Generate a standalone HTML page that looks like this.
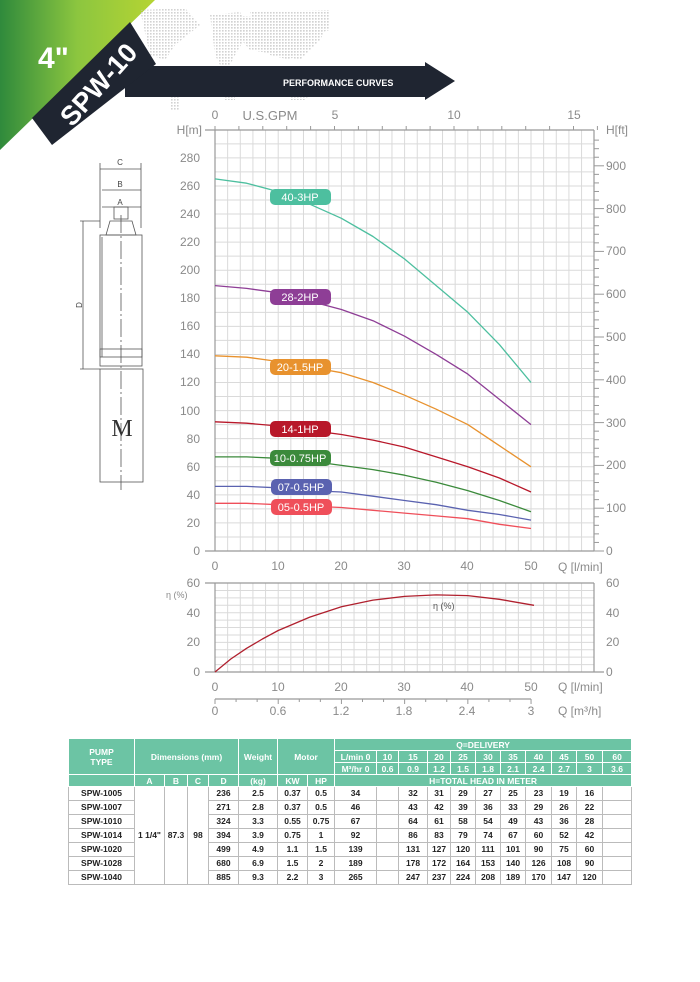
<!DOCTYPE html>
<html><head><meta charset="utf-8"><style>
body{margin:0;background:#fff;width:700px;height:982px;overflow:hidden;font-family:"Liberation Sans",sans-serif}
svg{position:absolute;left:0;top:0}
.t{font-family:"Liberation Sans",sans-serif;fill:#8a8a8a;font-size:12px}
table{position:absolute;left:68px;top:738px;width:564px;border-collapse:collapse;font-family:"Liberation Sans",sans-serif;font-size:8.5px;font-weight:bold;table-layout:fixed}
td{border:1px solid #bbb;text-align:center;padding:0;height:13px;line-height:11px;color:#222}
.h td,td.h{background:#6cc4a4;color:#fff;border-color:#fff;height:11px;line-height:10px}
</style></head><body>
<svg width="700" height="982" viewBox="0 0 700 982">
<defs><linearGradient id="g" x1="0" y1="0" x2="1" y2="0"><stop offset="0" stop-color="#2f8a3c"/><stop offset="0.5" stop-color="#8cc63f"/><stop offset="1" stop-color="#b5d433"/></linearGradient>
<pattern id="dots" width="3" height="3" patternUnits="userSpaceOnUse"><rect width="1.6" height="1.6" fill="#c8c8c8"/></pattern></defs>
<polygon points="0,0 155,0 0,150" fill="url(#g)"/>
<g fill="url(#dots)" opacity="0.8">
<path d="M140,10 L185,8 L200,25 L175,45 L165,60 L150,55 Z"/>
<path d="M210,15 L240,12 L250,30 L235,55 L225,75 L215,55 Z"/>
<path d="M250,12 L330,10 L330,30 L310,35 L290,60 L270,55 L255,40 Z"/>
<path d="M220,15 L330,20 L320,40 L300,60 L280,55 L250,50 Z"/>
<path d="M170,95 L180,95 L180,110 L170,110 Z"/>
<path d="M225,95 L235,95 L235,100 L225,100Z"/>
<path d="M290,95 L310,95 L305,100 L290,100Z"/>
</g>
<polygon points="125,66 425,66 425,62 455,81 425,100 425,97 125,97" fill="#1f2531"/>
<text x="283" y="86" font-size="9" font-weight="bold" fill="#fff" font-family="Liberation Sans">PERFORMANCE  CURVES</text>
<polygon points="32,118 130,22 156,64 52,145" fill="#1f2531"/>
<g transform="translate(98,84) rotate(-48)">
<text x="0" y="10" text-anchor="middle" font-size="27" font-weight="bold" fill="#fff" font-family="Liberation Sans">SPW-10</text>
</g>
<text x="38" y="68" font-size="30" font-weight="bold" fill="#fff" font-family="Liberation Sans">4"</text>

<g id="grid" stroke="#dadada" stroke-width="1"></g>
<g stroke="#999" stroke-width="1.2" fill="none">
<line x1="215" y1="130" x2="215" y2="551"/><line x1="205" y1="551" x2="594" y2="551"/>
<line x1="205" y1="130" x2="594" y2="130"/><line x1="594" y1="130" x2="594" y2="551"/>
<line x1="215" y1="583" x2="215" y2="672"/><line x1="205" y1="672" x2="604" y2="672"/>
<line x1="205" y1="583" x2="594" y2="583"/><line x1="594" y1="583" x2="594" y2="672"/>
<line x1="215" y1="699" x2="531" y2="699"/>
</g>
<g id="ticks" stroke="#999" stroke-width="1"></g>
<g class="t">
<text x="215" y="119" text-anchor="middle">0</text><text x="270" y="120" text-anchor="middle" font-size="13">U.S.GPM</text>
<text x="335" y="119" text-anchor="middle">5</text><text x="454" y="119" text-anchor="middle">10</text><text x="574" y="119" text-anchor="middle">15</text>
<text x="202" y="134" text-anchor="end">H[m]</text><text x="606" y="134">H[ft]</text>
<text x="200" y="162" text-anchor="end">280</text><text x="200" y="190" text-anchor="end">260</text><text x="200" y="218" text-anchor="end">240</text>
<text x="200" y="246" text-anchor="end">220</text><text x="200" y="274" text-anchor="end">200</text><text x="200" y="302" text-anchor="end">180</text>
<text x="200" y="330" text-anchor="end">160</text><text x="200" y="358" text-anchor="end">140</text><text x="200" y="386" text-anchor="end">120</text>
<text x="200" y="415" text-anchor="end">100</text><text x="200" y="443" text-anchor="end">80</text><text x="200" y="471" text-anchor="end">60</text>
<text x="200" y="499" text-anchor="end">40</text><text x="200" y="527" text-anchor="end">20</text><text x="200" y="555" text-anchor="end">0</text>
<text x="606" y="170">900</text><text x="606" y="213">800</text><text x="606" y="255">700</text><text x="606" y="298">600</text>
<text x="606" y="341">500</text><text x="606" y="384">400</text><text x="606" y="427">300</text><text x="606" y="469">200</text>
<text x="606" y="512">100</text><text x="606" y="555">0</text>
<text x="215" y="570" text-anchor="middle">0</text><text x="278" y="570" text-anchor="middle">10</text><text x="341" y="570" text-anchor="middle">20</text>
<text x="404" y="570" text-anchor="middle">30</text><text x="467" y="570" text-anchor="middle">40</text><text x="531" y="570" text-anchor="middle">50</text>
<text x="558" y="571">Q [l/min]</text>
<text x="200" y="587" text-anchor="end">60</text><text x="200" y="617" text-anchor="end">40</text><text x="200" y="646" text-anchor="end">20</text><text x="200" y="676" text-anchor="end">0</text>
<text x="166" y="598" font-size="9">η (%)</text>
<text x="606" y="587">60</text><text x="606" y="617">40</text><text x="606" y="646">20</text><text x="606" y="676">0</text>
<text x="215" y="691" text-anchor="middle">0</text><text x="278" y="691" text-anchor="middle">10</text><text x="341" y="691" text-anchor="middle">20</text>
<text x="404" y="691" text-anchor="middle">30</text><text x="467" y="691" text-anchor="middle">40</text><text x="531" y="691" text-anchor="middle">50</text>
<text x="558" y="691">Q [l/min]</text>
<text x="215" y="715" text-anchor="middle">0</text><text x="278" y="715" text-anchor="middle">0.6</text><text x="341" y="715" text-anchor="middle">1.2</text>
<text x="404" y="715" text-anchor="middle">1.8</text><text x="467" y="715" text-anchor="middle">2.4</text><text x="531" y="715" text-anchor="middle">3</text>
<text x="558" y="715">Q [m³/h]</text>
<text x="433" y="609" font-size="9" fill="#555">η (%)</text>
</g>
<g fill="none" stroke-width="1.3" stroke-linejoin="round">
<polyline stroke="#4dbf9f" points="215,178.9 246.6,183.2 278.2,191.6 309.8,204.2 341.4,218.3 373,236.5 404.6,259 436.2,285.6 467.8,312.3 499.4,344.6 531,382.5"/>
<polyline stroke="#8e3e96" points="215,285.6 246.6,288.4 278.2,292.7 309.8,301.1 341.4,309.5 373,320.7 404.6,336.2 436.2,354.4 467.8,374.1 499.4,399.4 531,424.6"/>
<polyline stroke="#e8922e" points="215,355.8 246.6,357.2 278.2,361.5 309.8,367.1 341.4,372.7 373,382.5 404.6,395.2 436.2,409.2 467.8,424.6 499.4,445.7 531,466.8"/>
<polyline stroke="#b8182a" points="215,421.8 246.6,423.2 278.2,426 309.8,430.3 341.4,434.5 373,440.1 404.6,447.1 436.2,456.9 467.8,466.8 499.4,478 531,492"/>
<polyline stroke="#3b8a3b" points="215,456.9 246.6,456.9 278.2,458.3 309.8,461.1 341.4,465.4 373,469.6 404.6,475.2 436.2,482.2 467.8,490.6 499.4,500.5 531,511.7"/>
<polyline stroke="#5a62b0" points="215,486.4 246.6,486.4 278.2,487.8 309.8,490.6 341.4,492 373,496.2 404.6,500.5 436.2,504.7 467.8,510.3 499.4,514.5 531,520.1"/>
<polyline stroke="#ef4f5a" points="215,503.3 246.6,503.3 278.2,504.7 309.8,506.1 341.4,507.5 373,510.3 404.6,513.1 436.2,515.9 467.8,518.7 499.4,524.3 531,528.5"/>
<polyline stroke="#b0202e" points="215,672 230.8,659 246.6,648.3 262.4,639 278.2,630.5 309.8,617.1 341.4,606.7 373,600.1 404.6,596.4 436.2,594.9 467.8,595.6 499.4,599.3 534,605.3"/>
</g>
<g font-size="11" fill="#fff" text-anchor="middle" font-family="Liberation Sans">
<rect x="270" y="189" width="61" height="16" rx="5" fill="#4dbf9f"/><text x="300" y="201">40-3HP</text>
<rect x="270" y="289" width="61" height="16" rx="5" fill="#8e3e96"/><text x="300" y="301">28-2HP</text>
<rect x="270" y="359" width="61" height="16" rx="5" fill="#e8922e"/><text x="300" y="371">20-1.5HP</text>
<rect x="270" y="421" width="61" height="16" rx="5" fill="#b8182a"/><text x="300" y="433">14-1HP</text>
<rect x="270" y="450" width="61" height="16" rx="5" fill="#3b8a3b"/><text x="300" y="462">10-0.75HP</text>
<rect x="271" y="479" width="61" height="16" rx="5" fill="#5a62b0"/><text x="301" y="491">07-0.5HP</text>
<rect x="271" y="499" width="61" height="16" rx="5" fill="#ef4f5a"/><text x="301" y="511">05-0.5HP</text>
</g>
<g stroke="#555" stroke-width="0.8" fill="none">
<line x1="100" y1="163" x2="100" y2="228"/><line x1="141" y1="163" x2="141" y2="228"/>
<line x1="100" y1="169" x2="141" y2="169"/><line x1="102" y1="190" x2="141" y2="190"/><line x1="102" y1="207" x2="141" y2="207"/>
<rect x="114" y="207" width="14" height="12"/>
<path d="M106,235 L110,221 L132,221 L136,235 Z"/>
<rect x="100" y="235" width="42" height="122"/><line x1="102" y1="237" x2="102" y2="357"/>
<rect x="100" y="349" width="42" height="17"/>
<line x1="80" y1="221" x2="100" y2="221"/><line x1="80" y1="369" x2="100" y2="369"/><line x1="83" y1="221" x2="83" y2="369"/>
<rect x="100" y="369" width="43" height="113"/>
<line x1="121" y1="215" x2="121" y2="490" stroke-dasharray="18,3,2,3"/>
</g>
<g font-size="8" fill="#444" font-family="Liberation Sans" text-anchor="middle">
<text x="120" y="165">C</text><text x="120" y="187">B</text><text x="120" y="205">A</text>
<text x="79" y="308" transform="rotate(-90 79 305)">D</text>
</g>
<text x="122" y="436" font-size="24" fill="#333" text-anchor="middle" font-family="Liberation Serif">M</text>
</svg>
<table>
<colgroup><col style="width:66px"><col style="width:30px"><col style="width:23px"><col style="width:21px"><col style="width:30px"><col style="width:39px"><col style="width:30px"><col style="width:27px"><col style="width:42px"><col style="width:22px"><col style="width:29px"><col style="width:23px"><col style="width:25px"><col style="width:25px"><col style="width:25px"><col style="width:26px"><col style="width:25px"><col style="width:26px"><col style="width:29px"></colgroup>
<tr class="h"><td rowspan="3">PUMP<br>TYPE</td><td colspan="4" rowspan="3">Dimensions (mm)</td><td rowspan="3">Weight</td><td colspan="2" rowspan="3">Motor</td><td colspan="11">Q=DELIVERY</td></tr>
<tr class="h"><td>L/min 0</td><td>10</td><td>15</td><td>20</td><td>25</td><td>30</td><td>35</td><td>40</td><td>45</td><td>50</td><td>60</td></tr>
<tr class="h"><td>M³/hr 0</td><td>0.6</td><td>0.9</td><td>1.2</td><td>1.5</td><td>1.8</td><td>2.1</td><td>2.4</td><td>2.7</td><td>3</td><td>3.6</td></tr>
<tr class="h"><td></td><td>A</td><td>B</td><td>C</td><td>D</td><td>(kg)</td><td>KW</td><td>HP</td><td colspan="11">H=TOTAL HEAD IN METER</td></tr>
<tr><td>SPW-1005</td><td rowspan="7">1 1/4"</td><td rowspan="7">87.3</td><td rowspan="7">98</td><td>236</td><td>2.5</td><td>0.37</td><td>0.5</td><td>34</td><td></td><td>32</td><td>31</td><td>29</td><td>27</td><td>25</td><td>23</td><td>19</td><td>16</td><td></td></tr>
<tr><td>SPW-1007</td><td>271</td><td>2.8</td><td>0.37</td><td>0.5</td><td>46</td><td></td><td>43</td><td>42</td><td>39</td><td>36</td><td>33</td><td>29</td><td>26</td><td>22</td><td></td></tr>
<tr><td>SPW-1010</td><td>324</td><td>3.3</td><td>0.55</td><td>0.75</td><td>67</td><td></td><td>64</td><td>61</td><td>58</td><td>54</td><td>49</td><td>43</td><td>36</td><td>28</td><td></td></tr>
<tr><td>SPW-1014</td><td>394</td><td>3.9</td><td>0.75</td><td>1</td><td>92</td><td></td><td>86</td><td>83</td><td>79</td><td>74</td><td>67</td><td>60</td><td>52</td><td>42</td><td></td></tr>
<tr><td>SPW-1020</td><td>499</td><td>4.9</td><td>1.1</td><td>1.5</td><td>139</td><td></td><td>131</td><td>127</td><td>120</td><td>111</td><td>101</td><td>90</td><td>75</td><td>60</td><td></td></tr>
<tr><td>SPW-1028</td><td>680</td><td>6.9</td><td>1.5</td><td>2</td><td>189</td><td></td><td>178</td><td>172</td><td>164</td><td>153</td><td>140</td><td>126</td><td>108</td><td>90</td><td></td></tr>
<tr><td>SPW-1040</td><td>885</td><td>9.3</td><td>2.2</td><td>3</td><td>265</td><td></td><td>247</td><td>237</td><td>224</td><td>208</td><td>189</td><td>170</td><td>147</td><td>120</td><td></td></tr>
</table>
<script>
var ns="http://www.w3.org/2000/svg",g=document.getElementById("grid"),tk=document.getElementById("ticks");
function L(p,a,b,c,d){var l=document.createElementNS(ns,"line");l.setAttribute("x1",a);l.setAttribute("y1",b);l.setAttribute("x2",c);l.setAttribute("y2",d);p.appendChild(l);}
for(var i=1;i<30;i++){var x=215+12.64*i;L(g,x,130,x,551);L(g,x,583,x,672);}
for(var j=1;j<30;j++){var y=551-14.04*j;L(g,215,y,594,y);}
for(var k=1;k<12;k++){var y=672-7.41*k;L(g,215,y,594,y);}
for(var k=0;k<=16;k++){var x=215+23.9*k;L(tk,x,130,x,126);}
for(var k=0;k<=48;k++){var y=551-8.56*k;if(y<130)break;L(tk,594,y,k%5==0?604:599,y);}
for(var k=0;k<=15;k++){var x=215+21.07*k;L(tk,x,699,x,k%3==0?704:702);}
</script>
</body></html>
